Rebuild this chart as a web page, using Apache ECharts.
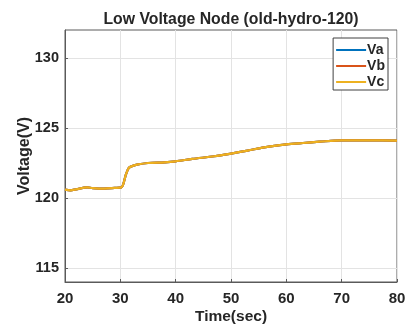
<!DOCTYPE html>
<html>
<head>
<meta charset="utf-8">
<script src="https://cdn.jsdelivr.net/npm/echarts@6/dist/echarts.min.js"></script>
<style>
  html, body { margin: 0; padding: 0; background: #fff; }
  #chart { width: 410px; height: 324px; }
</style>
</head>
<body>
<div id="chart"></div>
<script>
// Simulation time stamps (s) and node voltages (V)
const timeSec = [20, 21, 22, 24, 25, 27, 29, 30.2, 30.5, 31, 31.5, 32, 33, 35, 38, 40, 43, 47, 50, 53, 56, 60, 63, 66, 70, 75, 80];
const vaVolts = [120.6, 120.55, 120.62, 120.76, 120.71, 120.67, 120.72, 120.76, 120.95, 121.67, 122.14, 122.26, 122.38, 122.5, 122.55, 122.62, 122.79, 122.98, 123.17, 123.38, 123.62, 123.83, 123.93, 124.02, 124.12, 124.12, 124.1];
const vbVolts = [120.6, 120.55, 120.62, 120.76, 120.71, 120.67, 120.72, 120.76, 120.95, 121.67, 122.14, 122.26, 122.38, 122.5, 122.55, 122.62, 122.79, 122.98, 123.17, 123.38, 123.62, 123.83, 123.93, 124.02, 124.12, 124.12, 124.1];
const vcVolts = [120.6, 120.55, 120.62, 120.76, 120.71, 120.67, 120.72, 120.76, 120.95, 121.67, 122.14, 122.26, 122.38, 122.5, 122.55, 122.62, 122.79, 122.98, 123.17, 123.38, 123.62, 123.83, 123.93, 124.02, 124.12, 124.12, 124.1];
const yTicks = [115, 120, 125, 130];
const seriesNames = ['Va', 'Vb', 'Vc'];

const textColor = '#262626';
const font = 'Liberation Sans, Arial, sans-serif';

const pairs = arr => timeSec.map((t, i) => [t, arr[i]]);
const colors = ['#0072BD', '#D95319', '#EDB120'];
const values = [vaVolts, vbVolts, vcVolts];

const chart = echarts.init(document.getElementById('chart'), null, { renderer: 'canvas' });
chart.setOption({
  animation: false,
  title: {
    text: 'Low Voltage Node (old-hydro-120)',
    left: 226, top: 7, textAlign: 'center',
    textStyle: { fontFamily: font, fontSize: 15.8, fontWeight: 'bold', color: textColor }
  },
  legend: {
    orient: 'vertical',
    right: 22, top: 38,
    itemWidth: 30, itemHeight: 2, itemGap: 2,
    padding: [5, 3, 1, 3],
    borderColor: '#404040', borderWidth: 1,
    backgroundColor: '#fff',
    icon: 'rect',
    align: 'left',
    textStyle: { fontFamily: font, fontSize: 14, fontWeight: 'bold', color: textColor, padding: [0, 0, 0, -4] },
    data: seriesNames
  },
  grid: {
    left: 65, right: 13, top: 30, bottom: 42,
    outerBoundsMode: 'none',
    show: true, borderColor: '#5a5a5a', borderWidth: 1
  },
  xAxis: {
    type: 'value', min: 20, max: 80, interval: 10,
    name: 'Time(sec)', nameLocation: 'middle', nameGap: 27, nameMoveOverlap: false,
    nameTextStyle: { fontFamily: font, fontSize: 15.5, fontWeight: 'bold', color: textColor },
    axisLine: { lineStyle: { color: '#5a5a5a' } },
    axisTick: { inside: true, length: 3, lineStyle: { color: '#5a5a5a' } },
    axisLabel: { fontFamily: font, fontSize: 15, fontWeight: 'bold', color: textColor, margin: 9 },
    splitLine: { lineStyle: { color: '#e3e3e3' } }
  },
  yAxis: {
    type: 'value', min: 114, max: 132,
    name: 'Voltage(V)', nameLocation: 'middle', nameGap: 32, nameMoveOverlap: false,
    nameTextStyle: { fontFamily: font, fontSize: 16, fontWeight: 'bold', color: textColor },
    axisLine: { show: true, lineStyle: { color: '#5a5a5a' } },
    axisTick: { show: true, inside: true, length: 3, customValues: yTicks, lineStyle: { color: '#5a5a5a' } },
    axisLabel: { fontFamily: font, fontSize: 14.5, fontWeight: 'bold', color: textColor, margin: 6, customValues: yTicks },
    splitLine: { show: true, lineStyle: { color: '#e3e3e3' } }
  },
  series: seriesNames.map((name, k) => ({
    name,
    type: 'line',
    data: pairs(values[k]),
    color: colors[k],
    showSymbol: false,
    smooth: 0.3,
    lineStyle: { width: 2.2 },
    z: 2 + k
  }))
});
</script>
</body>
</html>
